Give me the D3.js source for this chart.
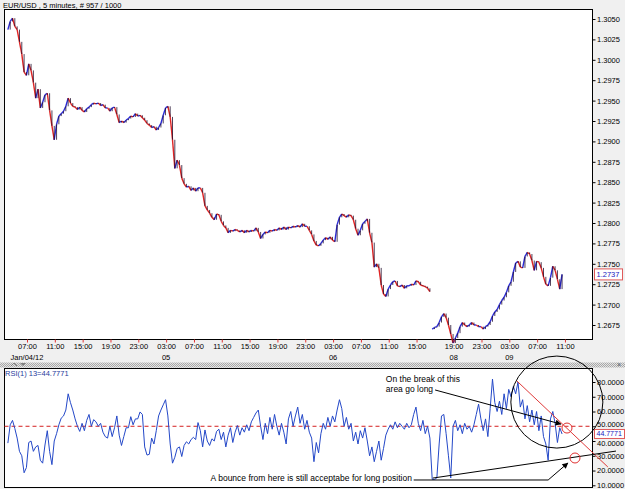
<!DOCTYPE html>
<html><head><meta charset="utf-8">
<script src="https://cdn.jsdelivr.net/npm/d3@7"></script>
<style>
body{margin:0;background:#f0f0f0;}
svg{display:block;font-family:"Liberation Sans",Arial,sans-serif;}
</style>
</head><body>
<svg id="c" width="625" height="489"></svg>
<script>
// ---------------- data ----------------
const chartTitle = "EUR/USD , 5 minutes, # 957 / 1000";
const totalBars = 957;
const barsPerSample = 4;          // one sample every 4 five-minute bars
const sessionBreak = 183;         // first sample of the Jan 8 session (weekend gap)

const eurusd = [
1.3037,1.3047,1.3051,1.3041,1.3037,1.3022,1.3007,1.2985,1.2981,1.2995,
1.2987,1.2972,1.2953,1.2964,1.2941,1.2948,1.2957,1.2959,1.2938,1.2919,
1.2902,1.2921,1.2931,1.2934,1.2937,1.2943,1.2953,1.2947,1.2943,1.2942,
1.2939,1.2942,1.2938,1.2936,1.2940,1.2942,1.2945,1.2947,1.2946,1.2947,
1.2944,1.2945,1.2941,1.2941,1.2937,1.2941,1.2942,1.2933,1.2923,1.2925,
1.2923,1.2926,1.2928,1.2931,1.2930,1.2934,1.2931,1.2932,1.2929,1.2926,
1.2922,1.2920,1.2917,1.2918,1.2914,1.2917,1.2922,1.2932,1.2941,1.2943,
1.2930,1.2902,1.2867,1.2877,1.2871,1.2855,1.2848,1.2844,1.2845,1.2840,
1.2843,1.2839,1.2843,1.2843,1.2837,1.2821,1.2816,1.2812,1.2807,1.2804,
1.2811,1.2810,1.2802,1.2797,1.2794,1.2788,1.2791,1.2790,1.2792,1.2791,
1.2789,1.2791,1.2788,1.2791,1.2789,1.2791,1.2790,1.2794,1.2789,1.2781,
1.2786,1.2789,1.2788,1.2791,1.2790,1.2792,1.2791,1.2794,1.2792,1.2795,
1.2792,1.2795,1.2794,1.2796,1.2795,1.2797,1.2795,1.2799,1.2796,1.2796,
1.2791,1.2786,1.2778,1.2773,1.2772,1.2775,1.2779,1.2782,1.2780,1.2783,
1.2779,1.2777,1.2798,1.2807,1.2811,1.2809,1.2807,1.2810,1.2809,1.2804,
1.2793,1.2785,1.2791,1.2799,1.2802,1.2805,1.2788,1.2776,1.2746,1.2750,
1.2745,1.2724,1.2713,1.2710,1.2719,1.2724,1.2728,1.2729,1.2723,1.2722,
1.2724,1.2720,1.2723,1.2723,1.2725,1.2724,1.2729,1.2728,1.2724,1.2723,
1.2722,1.2720,1.2716,
1.2670,1.2672,1.2673,1.2678,1.2685,1.2689,1.2684,
1.2675,1.2664,1.2653,1.2659,1.2665,1.2673,1.2678,1.2675,1.2673,1.2675,
1.2678,1.2675,1.2675,1.2673,1.2673,1.2670,1.2673,1.2675,1.2679,1.2686,
1.2691,1.2694,1.2700,1.2705,1.2709,1.2715,1.2723,1.2728,1.2740,1.2751,
1.2753,1.2746,1.2745,1.2759,1.2764,1.2762,1.2754,1.2742,1.2753,1.2752,
1.2745,1.2734,1.2725,1.2723,1.2733,1.2747,1.2742,1.2731,1.2719,1.2737
];

const rsi = [
38.6,51,54,48.5,42,33,30,18.5,22,39,
40,33,36,37,27,25,37.3,47,33,24,
40,45,51,55.5,57,61,72,66,61,55,
50,46.5,52,47,54,58,50,54.5,53,50,
52,46,43,42,50,43,49,57,44,37,
43,49,49,56.5,51,55,55,59.7,58,36,
30.5,31,42,38,47,57,61,64.5,68,57,
38,25,29,35,36,29.5,37,39.5,38,41,
42.5,41,52.5,47,36,47.5,40,37,41.5,40,
46.5,48,41,46,36,44,49,39,46,50.5,
44,49,46,51,47,53,56,59,61,50,
41,52,45,56,48,58,50,44,52,46,
38,55,60,50,57,63,52,58,48,54,
46,42,26,39,32,45,52,48,56,50,
57,53,61,68,62,50,56,48,52,40,
46,38,47,42,49,40,30,36,26,33,
40,27,35,44,48,51,48,53,49,52,
50,48,52,49,51,58,63,52,47,54,
45,50,42,14,14,15,38,57,58,45,
30,15,50,54,47,51,45,52,48,50,
46,51,58,65,55,47,55,43,62,82,
66,60,67,58,72,62,75,70,77,72,
80,63,68,55,64,53,61,51,60,47,
57,43,38,27,55,60,52,39,49,44.7771
];

const lastPrice = 1.2737;
const lastRsi = 44.7771;
const rsiLabel = "RSI(1) 13=44.7771";

const priceTicks = [1.2675,1.2700,1.2725,1.2750,1.2775,1.2800,1.2825,1.2850,1.2875,1.2900,1.2925,1.2950,1.2975,1.3000,1.3025,1.3050];
const rsiTicks = [10,20,30,40,50,60,70,80];
const rsiMid = 50;

const timeLabels = ["07:00","11:00","15:00","19:00","23:00","03:00","07:00","11:00","15:00","19:00","23:00","03:00","07:00","11:00","15:00","19:00","23:00","03:00","07:00","11:00"];
const timeBars   = [33,81,129,177,225,273,321,369,417,465,513,561,609,657,705,769,817,865,913,961];
const dateLabels = ["Jan/04/12","05","06","08","09"];
const dateBars   = [33,273,561,769,865];

// annotations, in (bar, RSI value) coordinates
const noteText1 = ["On the break of this","area go long"];
const noteText1Pos = [[652,80.3],[652,72.9]];
const noteText2 = "A bounce from here is still acceptabe for long position";
const noteText2Pos = [697,12.9];
const bigCircleCenter = [947,66.4];
const resistanceLine = [[878,80.7],[1035,22.4]];
const supportLine = [[733,14.9],[1049,33.2]];
const redMarks = [[964.5,48.8],[978.3,28.5]];
const arrowBreak = [[737,74.6],[954,51.5]];
const arrowBounce = [[700,13.6],[932,13.6],[966,25.1]];

// ---------------- layout ----------------
const L = 4.5, R = 592.5, mTop = 9.5, mBot = 339.5, rTop = 368.5, rBot = 487.5;
const svg = d3.select("#c");
const x = d3.scaleLinear().domain([0, totalBars]).range([7.87, 7.87 + totalBars * 0.5797]);
const y = d3.scaleLinear().domain([1.2675, 1.3050]).range([325, 19]);
const yr = d3.scaleLinear().domain([10, 80]).range([485.3, 382]);
const FS = 7.5;

svg.append("rect").attr("width",625).attr("height",489).attr("fill","#f0f0f0");

// title
svg.append("text").attr("x",3).attr("y",8).attr("font-size",FS).attr("fill","#000").text(chartTitle);

// panels
svg.append("rect").attr("x",L).attr("y",mTop).attr("width",R-L).attr("height",mBot-mTop)
  .attr("fill","#fff").attr("stroke","#000");
svg.append("rect").attr("x",L).attr("y",rTop).attr("width",R-L).attr("height",rBot-rTop)
  .attr("fill","#fff").attr("stroke","#000");

// separator band
const defs = svg.append("defs");
const pat = defs.append("pattern").attr("id","hatch").attr("width",2).attr("height",2).attr("patternUnits","userSpaceOnUse");
pat.append("rect").attr("width",2).attr("height",2).attr("fill","#e4e4e4");
pat.append("rect").attr("width",1).attr("height",1).attr("fill","#a8a8a8");
pat.append("rect").attr("x",1).attr("y",1).attr("width",1).attr("height",1).attr("fill","#a8a8a8");
svg.append("rect").attr("x",0).attr("y",362.5).attr("width",625).attr("height",5).attr("fill","url(#hatch)");
svg.append("path").attr("d","M11,366 L14,363 L17,366").attr("fill","none").attr("stroke","#808080");
svg.append("path").attr("d","M20,363 L26,363 L23,366 Z").attr("fill","#808080");
svg.append("text").attr("x",617).attr("y",367).attr("font-size",7).attr("fill","#606060").text("×");

// arrow marker
defs.append("marker").attr("id","arr").attr("viewBox","0 0 10 10").attr("refX",9).attr("refY",5)
  .attr("markerWidth",7).attr("markerHeight",6).attr("orient","auto").attr("markerUnits","userSpaceOnUse")
  .append("path").attr("d","M0,0 L10,5 L0,10 Z").attr("fill","#000");

// ---------------- price ----------------
const segs = [];
for (let i = 1; i < eurusd.length; i++) {
  if (i === sessionBreak) continue;
  segs.push({a: i - 1, b: i, up: eurusd[i] >= eurusd[i - 1]});
}
svg.append("g").selectAll("line").data(segs).join("line")
  .attr("x1", d => x(d.a * barsPerSample)).attr("y1", d => y(eurusd[d.a]))
  .attr("x2", d => x(d.b * barsPerSample)).attr("y2", d => y(eurusd[d.b]))
  .attr("stroke", d => d.up ? "#2b2bd8" : "#e02424")
  .attr("stroke-width", 1.4);
// dark candle wicks at each bar
svg.append("g").selectAll("line").data(segs).join("line")
  .attr("x1", d => x(d.b * barsPerSample)).attr("x2", d => x(d.b * barsPerSample))
  .attr("y1", d => y(eurusd[d.a])).attr("y2", d => y(eurusd[d.b]))
  .attr("stroke", "#1c0828").attr("stroke-width", 0.9).attr("opacity", 0.85);

// price axis
const ya = d3.axisRight(y).tickValues(priceTicks).tickFormat(d3.format(".4f")).tickSize(3).tickPadding(1.5);
const gy = svg.append("g").attr("transform", `translate(${R},0)`).call(ya);
gy.select(".domain").remove();
gy.attr("font-size", FS).attr("font-family", "Liberation Sans, Arial, sans-serif");
gy.selectAll("text").attr("fill", "#000");

// last price box
const lp = svg.append("g");
lp.append("rect").attr("x",594.5).attr("y",y(lastPrice)-5.5).attr("width",28).attr("height",11)
  .attr("fill","#fff").attr("stroke","#e05a5a");
lp.append("text").attr("x",596.5).attr("y",y(lastPrice)+2.7).attr("font-size",FS).attr("fill","#2020c0")
  .text(d3.format(".4f")(lastPrice));

// time axis
const xa = d3.axisBottom(x).tickValues(timeBars).tickFormat((d, i) => timeLabels[i]).tickSize(3).tickPadding(1);
const gx = svg.append("g").attr("transform", `translate(0,${mBot})`).call(xa);
gx.select(".domain").remove();
gx.attr("font-size", FS).attr("font-family", "Liberation Sans, Arial, sans-serif");
gx.selectAll(".tick line").attr("stroke", "#e03030");
gx.selectAll("text").attr("fill", "#000");
svg.append("g").selectAll("text").data(dateLabels).join("text")
  .attr("x", (d, i) => x(dateBars[i])).attr("y", 359.5).attr("text-anchor", "middle")
  .attr("font-size", FS).attr("fill", "#000").text(d => d);

// ---------------- RSI ----------------
svg.append("line").attr("x1",L).attr("x2",R).attr("y1",yr(rsiMid)).attr("y2",yr(rsiMid))
  .attr("stroke","#d42020").attr("stroke-dasharray","4,3").attr("stroke-width",1);
svg.append("path").datum(rsi)
  .attr("d", d3.line().x((d, i) => x(i * barsPerSample)).y(d => yr(d)))
  .attr("fill","none").attr("stroke","#2448c8").attr("stroke-width",1);

const yra = d3.axisRight(yr).tickValues(rsiTicks).tickFormat(d3.format(".4f")).tickSize(3).tickPadding(1.5);
const gr = svg.append("g").attr("transform", `translate(${R},0)`).call(yra);
gr.select(".domain").remove();
gr.attr("font-size", FS).attr("font-family", "Liberation Sans, Arial, sans-serif");
gr.selectAll("text").attr("fill", "#000");
// keep the tick labels next to the last-value box clear of it
gr.selectAll(".tick text").attr("transform", d => {
  const gap = yr(d) - yr(lastRsi);
  if (Math.abs(gap) < 10) return `translate(0,${gap > 0 ? 2.5 : -2})`;
  return null;
});

const lr = svg.append("g");
lr.append("rect").attr("x",594.5).attr("y",yr(lastRsi)-4.5).attr("width",30).attr("height",9)
  .attr("fill","#fff").attr("stroke","#e05a5a");
lr.append("text").attr("x",596.5).attr("y",yr(lastRsi)+2.5).attr("font-size",7).attr("fill","#2020c0")
  .text(d3.format(".4f")(lastRsi));

svg.append("text").attr("x",5).attr("y",376).attr("font-size",FS).attr("fill","#1f3d9c").text(rsiLabel);

// ---------------- annotations ----------------
const P = p => [x(p[0]), yr(p[1])];
const ann = svg.append("g");
const cc = P(bigCircleCenter);
ann.append("circle").attr("cx",cc[0]).attr("cy",cc[1]).attr("r",46).attr("fill","none").attr("stroke","#000");
ann.append("line").attr("x1",P(resistanceLine[0])[0]).attr("y1",P(resistanceLine[0])[1])
  .attr("x2",P(resistanceLine[1])[0]).attr("y2",P(resistanceLine[1])[1]).attr("stroke","#e03a3a");
ann.append("line").attr("x1",P(supportLine[0])[0]).attr("y1",P(supportLine[0])[1])
  .attr("x2",P(supportLine[1])[0]).attr("y2",P(supportLine[1])[1]).attr("stroke","#000");
ann.selectAll("circle.rm").data(redMarks).join("circle").attr("class","rm")
  .attr("cx",d=>P(d)[0]).attr("cy",d=>P(d)[1]).attr("r",5).attr("fill","none").attr("stroke","#e03030");
ann.append("path").attr("d", d3.line()(arrowBreak.map(P))).attr("fill","none").attr("stroke","#000").attr("marker-end","url(#arr)");
ann.append("path").attr("d", d3.line()(arrowBounce.map(P))).attr("fill","none").attr("stroke","#000").attr("marker-end","url(#arr)");
ann.selectAll("text.n1").data(noteText1).join("text").attr("class","n1")
  .attr("x",(d,i)=>P(noteText1Pos[i])[0]).attr("y",(d,i)=>P(noteText1Pos[i])[1])
  .attr("font-size",8.5).attr("fill","#000").text(d=>d);
ann.append("text").attr("x",P(noteText2Pos)[0]).attr("y",P(noteText2Pos)[1]).attr("text-anchor","end")
  .attr("font-size",8.5).attr("fill","#000").text(noteText2);
</script>
</body></html>
